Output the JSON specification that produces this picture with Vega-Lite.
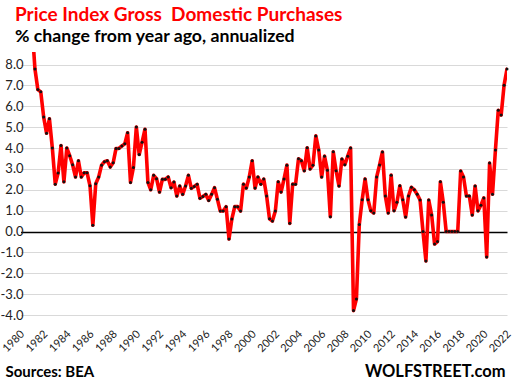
{
  "$schema": "https://vega.github.io/schema/vega-lite/v6.json",
  "width": 480,
  "height": 263,
  "autosize": {"type": "none"},
  "padding": {"left": 27, "top": 52, "right": 7, "bottom": 70},
  "background": "white",
  "config": {"view": {"stroke": null}, "font": "Lato"},
  "title": {
    "text": "Price Index Gross\u00a0 Domestic Purchases",
    "subtitle": "% change from year ago, annualized",
    "anchor": "start", "frame": "group", "dx": -12, "offset": 5, "dy": -1,
    "fontSize": 19, "font": "Lato", "fontWeight": "bold", "color": "#ff0000",
    "subtitleFontSize": 17.7, "subtitleFont": "Lato", "subtitleFontWeight": "bold",
    "subtitleColor": "#000000", "subtitlePadding": 3
  },
  "data": {"values": [
    {"date":"1980-01-01","v":12.0},{"date":"1980-04-01","v":11.0},{"date":"1980-07-01","v":9.5},{"date":"1980-10-01","v":10.5},
    {"date":"1981-01-01","v":9.8},{"date":"1981-04-01","v":7.78},{"date":"1981-07-01","v":6.8},{"date":"1981-10-01","v":6.69},
    {"date":"1982-01-01","v":5.48},{"date":"1982-04-01","v":4.71},{"date":"1982-07-01","v":5.4},{"date":"1982-10-01","v":4.0},
    {"date":"1983-01-01","v":2.27},{"date":"1983-04-01","v":2.8},{"date":"1983-07-01","v":4.12},{"date":"1983-10-01","v":2.38},
    {"date":"1984-01-01","v":4.0},{"date":"1984-04-01","v":3.63},{"date":"1984-07-01","v":3.2},{"date":"1984-10-01","v":2.61},
    {"date":"1985-01-01","v":3.39},{"date":"1985-04-01","v":2.61},{"date":"1985-07-01","v":2.81},{"date":"1985-10-01","v":2.81},
    {"date":"1986-01-01","v":2.19},{"date":"1986-04-01","v":0.3},{"date":"1986-07-01","v":2.29},{"date":"1986-10-01","v":2.61},
    {"date":"1987-01-01","v":3.18},{"date":"1987-04-01","v":3.34},{"date":"1987-07-01","v":3.39},{"date":"1987-10-01","v":3.09},
    {"date":"1988-01-01","v":3.29},{"date":"1988-04-01","v":3.98},{"date":"1988-07-01","v":3.98},{"date":"1988-10-01","v":4.1},
    {"date":"1989-01-01","v":4.2},{"date":"1989-04-01","v":4.73},{"date":"1989-07-01","v":2.35},{"date":"1989-10-01","v":3.07},
    {"date":"1990-01-01","v":5.01},{"date":"1990-04-01","v":3.69},{"date":"1990-07-01","v":4.28},{"date":"1990-10-01","v":4.9},
    {"date":"1991-01-01","v":2.35},{"date":"1991-04-01","v":2.0},{"date":"1991-07-01","v":2.69},{"date":"1991-10-01","v":2.53},
    {"date":"1992-01-01","v":1.89},{"date":"1992-04-01","v":2.5},{"date":"1992-07-01","v":2.5},{"date":"1992-10-01","v":2.61},
    {"date":"1993-01-01","v":2.1},{"date":"1993-04-01","v":2.37},{"date":"1993-07-01","v":1.7},{"date":"1993-10-01","v":2.18},
    {"date":"1994-01-01","v":1.78},{"date":"1994-04-01","v":2.18},{"date":"1994-07-01","v":2.69},{"date":"1994-10-01","v":2.07},
    {"date":"1995-01-01","v":2.16},{"date":"1995-04-01","v":2.26},{"date":"1995-07-01","v":1.59},{"date":"1995-10-01","v":1.68},
    {"date":"1996-01-01","v":1.78},{"date":"1996-04-01","v":1.49},{"date":"1996-07-01","v":1.78},{"date":"1996-10-01","v":2.1},
    {"date":"1997-01-01","v":1.54},{"date":"1997-04-01","v":0.98},{"date":"1997-07-01","v":0.98},{"date":"1997-10-01","v":1.19},
    {"date":"1998-01-01","v":-0.36},{"date":"1998-04-01","v":0.6},{"date":"1998-07-01","v":1.19},{"date":"1998-10-01","v":1.19},
    {"date":"1999-01-01","v":0.98},{"date":"1999-04-01","v":2.27},{"date":"1999-07-01","v":2.08},{"date":"1999-10-01","v":2.61},
    {"date":"2000-01-01","v":3.39},{"date":"2000-04-01","v":2.08},{"date":"2000-07-01","v":2.61},{"date":"2000-10-01","v":2.27},
    {"date":"2001-01-01","v":2.51},{"date":"2001-04-01","v":1.7},{"date":"2001-07-01","v":0.61},{"date":"2001-10-01","v":0.5},
    {"date":"2002-01-01","v":0.98},{"date":"2002-04-01","v":2.38},{"date":"2002-07-01","v":1.89},{"date":"2002-10-01","v":2.51},
    {"date":"2003-01-01","v":3.18},{"date":"2003-04-01","v":0.39},{"date":"2003-07-01","v":2.27},{"date":"2003-10-01","v":2.27},
    {"date":"2004-01-01","v":3.48},{"date":"2004-04-01","v":3.39},{"date":"2004-07-01","v":2.91},{"date":"2004-10-01","v":4.01},
    {"date":"2005-01-01","v":3.0},{"date":"2005-04-01","v":3.18},{"date":"2005-07-01","v":4.58},{"date":"2005-10-01","v":3.9},
    {"date":"2006-01-01","v":2.61},{"date":"2006-04-01","v":3.61},{"date":"2006-07-01","v":2.93},{"date":"2006-10-01","v":0.71},
    {"date":"2007-01-01","v":3.82},{"date":"2007-04-01","v":2.91},{"date":"2007-07-01","v":2.18},{"date":"2007-10-01","v":3.47},
    {"date":"2008-01-01","v":3.2},{"date":"2008-04-01","v":3.61},{"date":"2008-07-01","v":4.0},{"date":"2008-10-01","v":-3.79},
    {"date":"2009-01-01","v":-3.23},{"date":"2009-04-01","v":0.33},{"date":"2009-07-01","v":1.52},{"date":"2009-10-01","v":2.52},
    {"date":"2010-01-01","v":1.52},{"date":"2010-04-01","v":0.99},{"date":"2010-07-01","v":0.89},{"date":"2010-10-01","v":2.61},
    {"date":"2011-01-01","v":3.19},{"date":"2011-04-01","v":3.81},{"date":"2011-07-01","v":1.7},{"date":"2011-10-01","v":0.89},
    {"date":"2012-01-01","v":2.7},{"date":"2012-04-01","v":1.0},{"date":"2012-07-01","v":1.4},{"date":"2012-10-01","v":2.19},
    {"date":"2013-01-01","v":1.52},{"date":"2013-04-01","v":0.7},{"date":"2013-07-01","v":1.7},{"date":"2013-10-01","v":2.12},
    {"date":"2014-01-01","v":2.0},{"date":"2014-04-01","v":1.78},{"date":"2014-07-01","v":1.51},{"date":"2014-10-01","v":0.0},
    {"date":"2015-01-01","v":-1.41},{"date":"2015-04-01","v":1.51},{"date":"2015-07-01","v":0.79},{"date":"2015-10-01","v":-0.6},
    {"date":"2016-01-01","v":-0.48},{"date":"2016-04-01","v":2.38},{"date":"2016-07-01","v":1.4},{"date":"2016-10-01","v":0.0},
    {"date":"2017-01-01","v":0.0},{"date":"2017-04-01","v":0.0},{"date":"2017-07-01","v":0.0},{"date":"2017-10-01","v":0.0},
    {"date":"2018-01-01","v":2.9},{"date":"2018-04-01","v":2.61},{"date":"2018-07-01","v":1.7},{"date":"2018-10-01","v":1.7},
    {"date":"2019-01-01","v":0.79},{"date":"2019-04-01","v":2.18},{"date":"2019-07-01","v":0.99},{"date":"2019-10-01","v":1.26},
    {"date":"2020-01-01","v":1.61},{"date":"2020-04-01","v":-1.22},{"date":"2020-07-01","v":3.28},{"date":"2020-10-01","v":1.79},
    {"date":"2021-01-01","v":3.9},{"date":"2021-04-01","v":5.81},{"date":"2021-07-01","v":5.58},{"date":"2021-10-01","v":7.01},
    {"date":"2022-01-01","v":7.78}
  ]},
  "encoding": {
    "x": {
      "field": "date", "type": "temporal",
      "scale": {
        "type": "utc",
        "domain": [{"year": 1980, "month": 1, "date": 1, "utc": true}, {"year": 2022, "month": 1, "date": 1, "utc": true}],
        "range": [-6.5, 480]
      },
      "axis": {
        "values": [
          {"year":1980,"utc":true},{"year":1982,"utc":true},{"year":1984,"utc":true},{"year":1986,"utc":true},
          {"year":1988,"utc":true},{"year":1990,"utc":true},{"year":1992,"utc":true},{"year":1994,"utc":true},
          {"year":1996,"utc":true},{"year":1998,"utc":true},{"year":2000,"utc":true},{"year":2002,"utc":true},
          {"year":2004,"utc":true},{"year":2006,"utc":true},{"year":2008,"utc":true},{"year":2010,"utc":true},
          {"year":2012,"utc":true},{"year":2014,"utc":true},{"year":2016,"utc":true},{"year":2018,"utc":true},
          {"year":2020,"utc":true},{"year":2022,"utc":true}
        ],
        "format": "%Y", "formatType": "utc",
        "labelAngle": -45, "labelAlign": "right", "labelBaseline": "middle",
        "labelFontSize": 11, "labelFont": "Lato", "labelColor": "#222222",
        "labelPadding": 17, "labelOffset": 2, "labelOverlap": false, "labelFlush": false, "labelBound": false,
        "domain": false, "ticks": false, "grid": false,
        "title": "Sources: BEA", "titleFont": "Lato", "titleFontSize": 15, "titleFontWeight": "bold",
        "titleColor": "#000000", "titleAlign": "left", "titleAnchor": null, "titleBaseline": "alphabetic",
        "titleX": -22, "titleY": 61
      }
    },
    "y": {
      "field": "v", "type": "quantitative",
      "scale": {"domain": [-4, 8.6], "nice": false, "zero": false},
      "axis": {
        "values": [-4, -3, -2, -1, 0, 1, 2, 3, 4, 5, 6, 7, 8],
        "labelExpr": "datum.value < 0 ? '-' + format(-datum.value, '.1f') : format(datum.value, '.1f')",
        "labelFontSize": 13, "labelFont": "Lato", "labelColor": "#222222", "labelPadding": 4,
        "domain": false, "ticks": false, "grid": true,
        "gridColor": {"condition": {"test": "datum.value === 0", "value": "#000000"}, "value": "#d9d9d9"},
        "gridWidth": {"condition": {"test": "datum.value === 0", "value": 1.6}, "value": 1},
        "title": "WOLFSTREET.com", "titleAngle": 0, "titleFont": "Lato", "titleFontSize": 16.5,
        "titleFontWeight": "bold", "titleColor": "#000000", "titleAlign": "right", "titleBaseline": "alphabetic",
        "titleX": 478, "titleY": 324
      }
    }
  },
  "layer": [
    {"mark": {"type": "line", "color": "#ff0000", "strokeWidth": 3.6, "strokeJoin": "round", "strokeCap": "round", "clip": true}},
    {"transform": [{"filter": "datum.v <= 8.6"}],
     "mark": {"type": "point", "filled": true, "color": "#111111", "size": 9, "opacity": 1}}
  ]
}
